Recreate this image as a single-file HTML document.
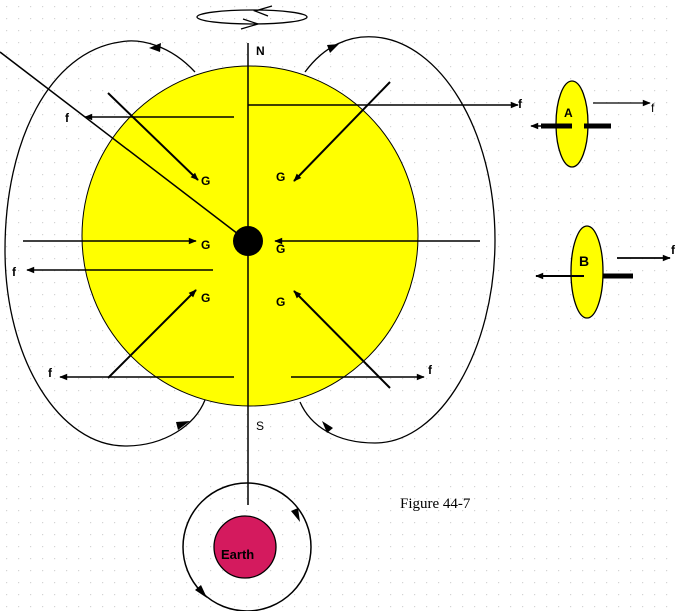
<!DOCTYPE html>
<html><head><meta charset="utf-8"><style>
html,body{margin:0;padding:0;background:#fff}
svg{display:block}
text{font-family:"Liberation Sans",sans-serif;font-weight:bold;font-size:12px;fill:#000}
</style></head><body>
<svg width="678" height="611" viewBox="0 0 678 611" xmlns="http://www.w3.org/2000/svg">
<defs>
<pattern id="dots" width="12" height="12" patternUnits="userSpaceOnUse"><rect x="6" y="6" width="1.2" height="1.2" fill="#d4d4d4"/></pattern>
<marker id="ah" viewBox="0 0 10 10" refX="9" refY="5" markerWidth="10" markerHeight="8" markerUnits="userSpaceOnUse" orient="auto"><path d="M0,1 L10,5 L0,9 z" fill="#000"/></marker>
</defs>
<rect width="678" height="611" fill="url(#dots)"/>
<!-- outer loops -->
<path d="M195,72 C170,45 140,38 120,42 C50,52 5,140 5,250 C5,360 60,446 125,446 C165,446 195,425 205,400" fill="none" stroke="#000" stroke-width="1.3"/>
<path d="M305,72 C325,45 350,35 375,37 C440,42 495,130 495,240 C495,350 440,443 375,443 C335,443 310,425 300,402" fill="none" stroke="#000" stroke-width="1.3"/>
<path d="M149,48 L161,43 L160,52 z" fill="#000"/>
<path d="M339,44 L330,53 L327,45 z" fill="#000"/>
<path d="M190,421 L178,430 L176,422 z" fill="#000"/>
<path d="M322,421 L333,428 L327,433 z" fill="#000"/>
<!-- sun -->
<ellipse cx="250" cy="236" rx="168" ry="170" fill="#ffff00" stroke="#000" stroke-width="1"/>
<line x1="248" y1="43" x2="248" y2="505" stroke="#000" stroke-width="1.5"/>
<circle cx="248" cy="241" r="15" fill="#000"/>
<line x1="0" y1="52" x2="238" y2="234" stroke="#000" stroke-width="1.5"/>
<line x1="108" y1="93" x2="198" y2="180" stroke="#000" stroke-width="2" marker-end="url(#ah)"/>
<line x1="390" y1="82" x2="294" y2="181" stroke="#000" stroke-width="2" marker-end="url(#ah)"/>
<line x1="234" y1="117" x2="85" y2="117" stroke="#000" stroke-width="1.5" marker-end="url(#ah)"/>
<line x1="248" y1="105" x2="518" y2="105" stroke="#000" stroke-width="1.5" marker-end="url(#ah)"/>
<line x1="23" y1="241" x2="196" y2="241" stroke="#000" stroke-width="1.5" marker-end="url(#ah)"/>
<line x1="480" y1="241" x2="275" y2="241" stroke="#000" stroke-width="1.5" marker-end="url(#ah)"/>
<line x1="213" y1="270" x2="27" y2="270" stroke="#000" stroke-width="1.5" marker-end="url(#ah)"/>
<line x1="108" y1="378" x2="196" y2="290" stroke="#000" stroke-width="2" marker-end="url(#ah)"/>
<line x1="390" y1="388" x2="294" y2="291" stroke="#000" stroke-width="2" marker-end="url(#ah)"/>
<line x1="234" y1="377" x2="60" y2="377" stroke="#000" stroke-width="1.5" marker-end="url(#ah)"/>
<line x1="291" y1="377" x2="424" y2="377" stroke="#000" stroke-width="1.5" marker-end="url(#ah)"/>
<text x="201" y="185">G</text><text x="276" y="181">G</text>
<text x="201" y="249">G</text><text x="276" y="253">G</text>
<text x="201" y="302">G</text><text x="276" y="306">G</text>
<text x="65" y="122">f</text><text x="518" y="108">f</text>
<text x="12" y="276">f</text><text x="48" y="377">f</text><text x="428" y="374">f</text>
<text x="256" y="55">N</text>
<text x="256" y="430" style="font-weight:normal">S</text>
<ellipse cx="252" cy="17" rx="55" ry="7" fill="none" stroke="#000" stroke-width="1.3"/>
<path d="M272,6 L255,11 L268,16" fill="none" stroke="#000" stroke-width="1.3"/>
<path d="M243,19 L258,24 L241,29" fill="none" stroke="#000" stroke-width="1.3"/>
<!-- earth -->
<circle cx="247" cy="547" r="64" fill="none" stroke="#000" stroke-width="1.5"/>
<path d="M300,522 L291,511 L298,508 z" fill="#000"/>
<path d="M207,598 L195,590 L201,585 z" fill="#000"/>
<circle cx="245" cy="547" r="31" fill="#d41a5e" stroke="#000" stroke-width="1.3"/>
<text x="221" y="559" style="font-size:13px">Earth</text>
<text x="400" y="508" style="font-family:'Liberation Serif',serif;font-weight:normal;font-size:15px">Figure 44-7</text>
<!-- A -->
<ellipse cx="572" cy="124" rx="16" ry="43" fill="#ffff00" stroke="#000" stroke-width="1.3"/>
<text x="564" y="117">A</text>
<line x1="572" y1="126" x2="541" y2="126" stroke="#000" stroke-width="5"/>
<line x1="545" y1="126" x2="531" y2="126" stroke="#000" stroke-width="1.5" marker-end="url(#ah)"/>
<line x1="584" y1="126" x2="611" y2="126" stroke="#000" stroke-width="5"/>
<line x1="593" y1="103" x2="650" y2="103" stroke="#000" stroke-width="1.3" marker-end="url(#ah)"/>
<text x="651" y="112" style="font-weight:normal">f</text>
<!-- B -->
<ellipse cx="587" cy="272" rx="16" ry="46" fill="#ffff00" stroke="#000" stroke-width="1.3"/>
<text x="579" y="266" style="font-size:14px">B</text>
<line x1="584" y1="276" x2="536" y2="276" stroke="#000" stroke-width="2" marker-end="url(#ah)"/>
<line x1="603" y1="276" x2="633" y2="276" stroke="#000" stroke-width="5"/>
<line x1="617" y1="258" x2="670" y2="258" stroke="#000" stroke-width="1.8" marker-end="url(#ah)"/>
<text x="671" y="254">f</text>
</svg>
</body></html>
